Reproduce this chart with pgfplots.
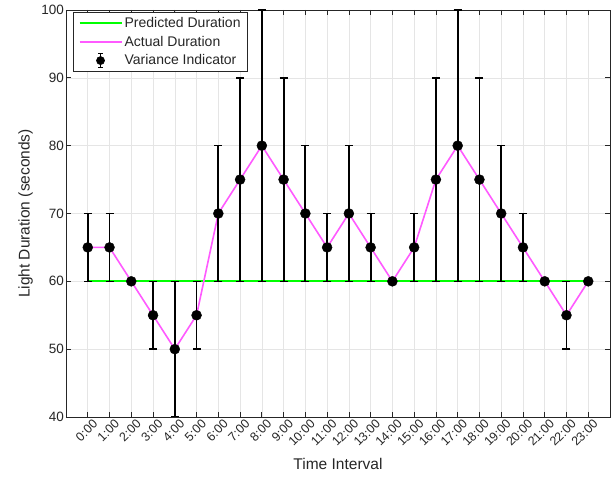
\documentclass[border=0pt]{standalone}
\usepackage{fontspec}
\setmainfont{Liberation Sans}
\usepackage{pgfplots}
\usepackage{pgfplotstable}
\pgfplotsset{compat=1.18}

\definecolor{predgreen}{RGB}{0,255,0}
\definecolor{actmag}{RGB}{255,90,255}
\definecolor{axgray}{RGB}{38,38,38}

% hour, predicted, actual duration, variance (|actual - predicted|)
\pgfplotstableread{
h  pred act  err
0  60   65   5
1  60   65   5
2  60   60   0
3  60   55   5
4  60   50   10
5  60   55   5
6  60   70   10
7  60   75   15
8  60   80   20
9  60   75   15
10 60   70   10
11 60   65   5
12 60   70   10
13 60   65   5
14 60   60   0
15 60   65   5
16 60   75   15
17 60   80   20
18 60   75   15
19 60   70   10
20 60   65   5
21 60   60   0
22 60   55   5
23 60   60   0
}\durations

\begin{document}
\begin{tikzpicture}[x=1pt,y=1pt]
\begin{axis}[
  scale only axis,
  width=544pt, height=407pt,
  xmin=-1, xmax=24,
  ymin=40, ymax=100,
  xtick={0,...,23},
  xticklabels={0:00,1:00,2:00,3:00,4:00,5:00,6:00,7:00,8:00,9:00,10:00,11:00,12:00,13:00,14:00,15:00,16:00,17:00,18:00,19:00,20:00,21:00,22:00,23:00},
  ytick={40,50,...,100},
  xticklabel style={rotate=45, anchor=north east, font=\fontsize{12.5}{13}\selectfont, text=axgray, inner sep=1pt, xshift=3pt, yshift=-3pt},
  yticklabel style={font=\fontsize{13.5}{14}\selectfont, text=axgray, inner sep=2pt},
  /pgf/number format/assume math mode=true,
  xlabel={Time Interval},
  ylabel={Light Duration (seconds)},
  label style={font=\fontsize{15.5}{17}\selectfont, text=axgray},
  xlabel style={yshift=-6pt},
  ylabel style={yshift=3pt},
  grid=major,
  major grid style={draw=black!10, line width=0.6pt},
  axis line style={draw=axgray, line width=0.7pt},
  tick style={draw=axgray, line width=0.7pt},
  major tick length=5pt,
  tick align=inside,
  legend style={at={(0.013,0.995)}, anchor=north west, draw=axgray, line width=0.7pt,
    font=\fontsize{14}{15}\selectfont, text=axgray, inner xsep=5pt, inner ysep=3pt, row sep=3pt},
  legend cell align=left,
  legend image code/.code={\draw[#1] (0pt,0pt) -- (42pt,0pt);},
]
\addplot[color=predgreen, line width=2.2pt, no markers] table[x=h, y=pred] {\durations};
\addlegendentry{Predicted Duration}
\addplot[color=actmag, line width=1.6pt, no markers] table[x=h, y=act] {\durations};
\addlegendentry{Actual Duration}
\addplot[only marks, mark=*, mark size=5pt, color=black,
  legend image code/.code={
    \draw[black, line width=1.8pt] (21pt,-7pt) -- (21pt,7pt);
    \draw[black, line width=1.2pt] (18.5pt,-7pt) -- (23.5pt,-7pt) (18.5pt,7pt) -- (23.5pt,7pt);
    \fill[black] (21pt,0pt) circle (4pt);},
  error bars/.cd, y dir=both, y explicit,
  error bar style={line width=1.8pt, black},
  error mark=|,
  error mark options={black, mark size=4pt, line width=1.4pt}]
  table[x=h, y=act, y error=err] {\durations};
\addlegendentry{Variance Indicator}
\end{axis}
\pgfresetboundingbox
\path ([shift={(-66pt,-66pt)}]current axis.south west) rectangle ([shift={(3pt,10pt)}]current axis.north east);
\end{tikzpicture}
\end{document}
